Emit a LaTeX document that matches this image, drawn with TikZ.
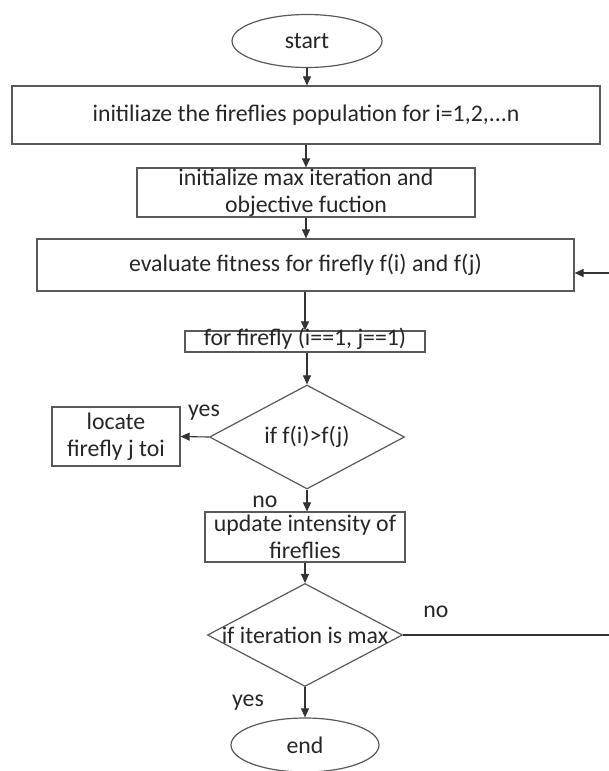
\documentclass[tikz,border=0pt]{standalone}
\usepackage{fontspec}
\setmainfont{Carlito}
\usetikzlibrary{shapes.geometric,arrows.meta}
\begin{document}
\begin{tikzpicture}[x=1pt,y=-1pt,
  every node/.style={font=\fontsize{23.8}{27}\selectfont, text=black!85},
  box/.style={draw=black!65, line width=1.2pt, rectangle, inner sep=0pt, align=center},
  oval/.style={draw=black!65, line width=1.2pt, ellipse, inner sep=0pt},
  dia/.style={draw=black!65, line width=1.2pt, diamond, inner sep=0pt},
  arr/.style={draw=black!80, line width=1.1pt, -{Triangle[length=9pt,width=8pt]}},
  lbl/.style={inner sep=0pt}
]
\useasboundingbox (0,0) rectangle (608,771);
\node[oval, minimum width=150pt, minimum height=53pt] (start) at (307,41) {start};
\node[box, minimum width=588pt, minimum height=58pt] (init) at (306,115) {initiliaze the fireflies population for i=1,2,...n};
\node[box, minimum width=338pt, minimum height=49pt] (maxit) at (306,192.5) {initialize max iteration and\\objective fuction};
\node[box, minimum width=537pt, minimum height=52pt] (eval) at (305.5,265) {evaluate fitness for firefly f(i) and f(j)};
\node[box, minimum width=240pt, minimum height=21pt, text height=12pt, text depth=4pt] (for) at (305,341.5) {for firefly (i==1, j==1)};
\node[dia, minimum width=195pt, minimum height=104pt] (dec1) at (307,437) {\makebox[0pt]{if f(i)>f(j)}};
\node[box, minimum width=128pt, minimum height=59pt] (locate) at (116,436.5) {locate\\firefly j toi};
\node[box, minimum width=200pt, minimum height=50pt] (update) at (305,537) {update intensity of\\fireflies};
\node[dia, minimum width=195pt, minimum height=103pt] (dec2) at (305,635) {\makebox[0pt]{if iteration is max}};
\node[oval, minimum width=148pt, minimum height=54pt] (end) at (305,745) {end};

\draw[arr] (start.south) -- (init.north -| start.south);
\draw[arr] (init.south -| maxit.north) -- (maxit.north);
\draw[arr] (maxit.south) -- (eval.north -| maxit.south);
\draw[arr] (eval.south -| for.north) -- (for.north);
\draw[arr] (for.south -| dec1.north) -- (dec1.north);
\draw[arr] (dec1.west) -- (locate.east);
\draw[arr] (dec1.south) -- (update.north -| dec1.south);
\draw[arr] (update.south -| dec2.north) -- (dec2.north);
\draw[arr] (dec2.south) -- (end.north);
\coordinate (fb) at (614,273);
\draw[arr] (dec2.east) -- (dec2.east -| fb) -- (fb) -- (eval.east |- fb);

\node[lbl] (yes1) at (204,413) {yes};
\node[lbl] (no1) at (265,502) {no};
\node[lbl] (no2) at (436,612) {no};
\node[lbl] (yes2) at (248,703) {yes};
\end{tikzpicture}
\end{document}
